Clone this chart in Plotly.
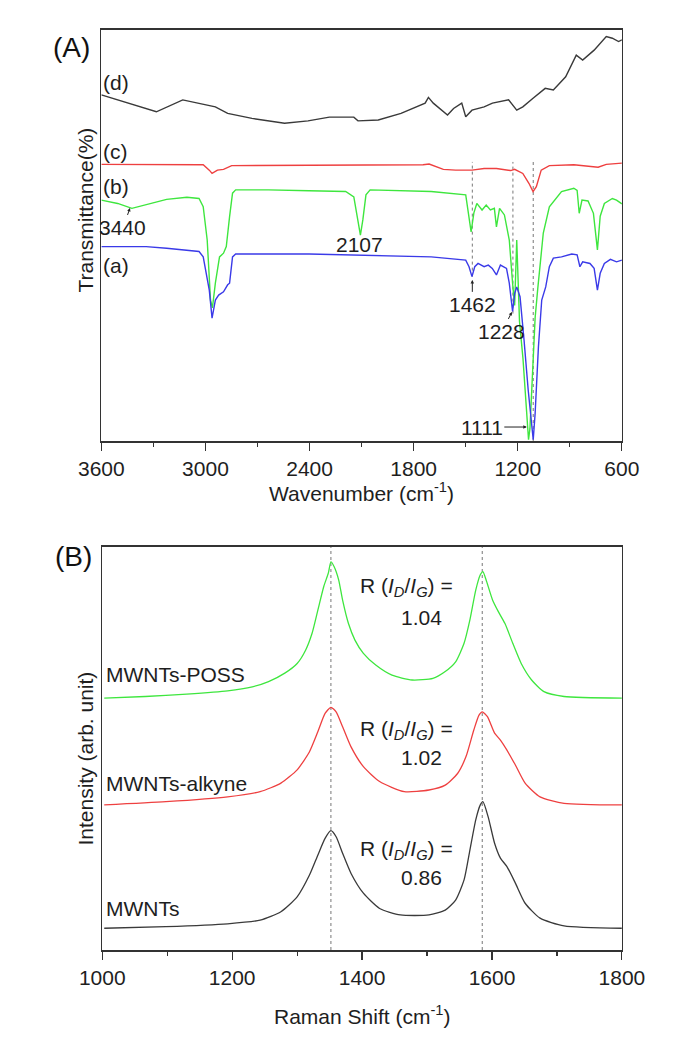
import plotly.graph_objects as go

# ---------------- Panel (A): FTIR spectra ----------------
# (d) black
wn_d = [3600, 3283, 3131, 2943, 2872, 2732, 2544, 2409, 2286, 2145, 2121, 2004, 1873, 1734, 1715,
        1687, 1605, 1570, 1523, 1500, 1464, 1394, 1346, 1253, 1206, 1171, 1112, 1042, 995, 924,
        863, 826, 760, 690, 655, 619, 600]
t_d = [84.2, 80.1, 83.0, 81.3, 79.7, 78.5, 77.3, 77.9, 78.8, 78.8, 77.9, 78.1, 79.7, 82.2, 83.6,
       82.2, 79.3, 80.9, 82.2, 78.9, 80.5, 81.3, 82.2, 83.0, 80.5, 81.3, 83.4, 85.8, 85.4, 88.6,
       93.9, 92.7, 95.1, 98.4, 98.0, 97.2, 97.6]

# (c) red
wn_c = [3600, 3013, 2978, 2962, 2931, 2896, 2849, 1746, 1711, 1629, 1558, 1464, 1394, 1323, 1241,
        1218, 1171, 1136, 1112, 1093, 1065, 1018, 877, 737, 690, 600]
t_c = [67.3, 67.2, 65.9, 65.1, 65.9, 66.1, 67.0, 67.2, 67.4, 66.1, 65.9, 65.9, 66.3, 66.3, 65.8,
       66.1, 65.1, 62.7, 60.7, 61.9, 65.9, 67.0, 67.2, 66.6, 67.3, 67.6]

# (b) green
wn_b = [3600, 3506, 3424, 3342, 3224, 3107, 3037, 3013, 2990, 2971, 2960, 2943, 2919, 2896, 2880,
        2861, 2844, 2826, 2638, 2403, 2192, 2145, 2121, 2107, 2093, 2075, 2051, 1699, 1500, 1483,
        1469, 1453, 1436, 1406, 1382, 1358, 1335, 1323, 1305, 1277, 1249, 1230, 1218, 1206, 1190,
        1170, 1150, 1138, 1130, 1118, 1100, 1085, 1077, 1053, 1018, 948, 877, 858, 846, 830,
        795, 764, 741, 725, 701, 655, 631, 600]
t_b = [58.6, 57.8, 56.6, 57.5, 58.8, 59.3, 59.0, 57.0, 48.9, 34.3, 32.4, 38.4, 44.8, 45.7, 47.3,
       54.6, 60.3, 61.1, 61.1, 60.9, 60.7, 59.4, 53.8, 50.1, 53.8, 59.9, 61.1, 60.7, 59.9, 54.6,
       50.9, 55.5, 57.8, 56.2, 57.4, 56.2, 56.6, 52.1, 56.6, 55.0, 48.9, 38.4, 33.0, 48.9, 29.0,
       20.0, 6.0, 0.3, 3.0, 15.0, 30.0, 37.0, 40.0, 50.6, 57.0, 60.7, 61.5, 61.0, 55.4, 58.6,
       58.4, 55.4, 46.5, 54.7, 57.8, 59.0, 58.6, 57.7]

# (a) blue
wn_a = [3600, 3342, 3224, 3037, 3013, 2990, 2978, 2962, 2943, 2924, 2896, 2872, 2861, 2844, 2826,
        2403, 2168, 1699, 1500, 1481, 1464, 1448, 1429, 1394, 1370, 1347, 1323, 1300, 1265, 1249,
        1230, 1218, 1206, 1187, 1164, 1140, 1111, 1100, 1081, 1062, 1039, 1018, 995, 948, 889,
        858, 842, 826, 784, 760, 741, 725, 701, 666, 631, 600]
t_a = [47.3, 47.3, 46.9, 46.1, 44.8, 40.0, 36.7, 29.9, 34.3, 35.5, 36.3, 38.0, 38.4, 44.8, 45.5,
       45.5, 45.3, 44.8, 44.0, 42.4, 40.0, 42.4, 43.2, 42.4, 42.8, 42.0, 40.4, 42.8, 42.0, 38.4,
       31.5, 35.9, 37.5, 35.1, 24.6, 12.4, 0.3, 6.7, 22.9, 34.3, 37.5, 42.4, 44.5, 44.8, 45.5,
       45.3, 42.4, 43.6, 43.2, 42.0, 36.7, 40.8, 43.2, 44.2, 43.6, 44.0]

ftir_ticks = [3600, 3000, 2400, 1800, 1200, 600]
ftir_minor = [3300, 2700, 2100, 1500, 900]
ftir_marks = [1462, 1228, 1111]
ftir_mark_low = [40.0, 31.0, 0.0]
ftir_labels = ["(d)", "(c)", "(b)", "(a)"]

# ---------------- Panel (B): Raman spectra ----------------
ram_x_poss = [1003, 1066, 1130, 1193, 1231, 1256, 1281, 1300, 1313, 1323, 1332, 1341, 1348, 1352,
              1357, 1364, 1370, 1379, 1389, 1402, 1421, 1446, 1477, 1509, 1528, 1544, 1557, 1566,
              1575, 1582, 1586, 1591, 1601, 1610, 1620, 1632, 1645, 1661, 1680, 1711, 1800]
ram_y_poss = [62.5, 62.9, 63.5, 64.3, 65.3, 66.6, 68.7, 71.1, 74.4, 78.6, 84.4, 90.2, 93.5, 96.3,
              95.1, 91.8, 86.8, 81.0, 76.9, 73.6, 70.7, 68.2, 67.0, 67.4, 69.1, 71.5, 76.1, 81.9,
              89.3, 93.1, 93.9, 91.8, 86.8, 83.9, 81.0, 76.1, 71.1, 67.0, 64.1, 62.9, 62.5]

ram_x_alk = [1003, 1098, 1193, 1243, 1275, 1300, 1319, 1332, 1343, 1352, 1360, 1370, 1383, 1402,
             1427, 1465, 1503, 1528, 1547, 1560, 1572, 1580, 1585, 1593, 1604, 1613, 1623, 1636,
             1651, 1674, 1711, 1800]
ram_y_alk = [36.0, 36.8, 38.0, 39.3, 41.4, 44.7, 49.2, 54.2, 58.7, 60.2, 59.1, 55.4, 50.4, 45.5,
             41.8, 39.3, 39.7, 40.9, 43.8, 48.0, 54.6, 58.3, 59.1, 57.9, 53.8, 52.1, 49.6, 45.9,
             41.4, 38.0, 36.4, 36.0]

ram_x_mw = [1003, 1098, 1193, 1243, 1275, 1300, 1319, 1332, 1343, 1352, 1360, 1370, 1383, 1402,
            1427, 1459, 1503, 1528, 1544, 1557, 1566, 1575, 1582, 1586, 1594, 1604, 1613, 1623,
            1636, 1651, 1674, 1711, 1800]
ram_y_mw = [5.4, 5.8, 6.5, 7.4, 9.5, 13.2, 18.6, 23.6, 27.7, 29.6, 28.1, 24.0, 19.0, 14.1,
            10.3, 8.7, 8.7, 9.9, 12.4, 17.4, 24.8, 32.3, 36.0, 36.8, 33.1, 26.5, 22.8, 20.7,
            16.6, 11.6, 7.9, 6.0, 5.4]

raman_ticks = [1000, 1200, 1400, 1600, 1800]
raman_minor = [1100, 1300, 1500, 1700]
raman_marks = [1352, 1585]
ratios = ["1.04", "1.02", "0.86"]
sample_names = ["MWNTs-POSS", "MWNTs-alkyne", "MWNTs"]

# ---------------- Layout helpers ----------------
W, H = 685, 1055
FONT = "Liberation Sans, Arial, sans-serif"
AX = "#333333"
TXT = "#1e1e1e"


def px(x):
    return x / W


def py(y):
    return 1 - y / H


fig = go.Figure()

ftir_series = [(wn_d, t_d, "#3a3a3a"), (wn_c, t_c, "#ee4040"),
               (wn_b, t_b, "#3ee63e"), (wn_a, t_a, "#3a3ae8")]
for xs, ys, col in ftir_series:
    fig.add_trace(go.Scatter(x=xs, y=ys, mode="lines", line=dict(color=col, width=1.4),
                             xaxis="x", yaxis="y", showlegend=False, hoverinfo="skip"))

raman_series = [(ram_x_poss, ram_y_poss, "#3ee63e"), (ram_x_alk, ram_y_alk, "#ee4040"),
                (ram_x_mw, ram_y_mw, "#3a3a3a")]
for xs, ys, col in raman_series:
    fig.add_trace(go.Scatter(x=xs, y=ys, mode="lines",
                             line=dict(color=col, width=1.3, shape="spline", smoothing=0.6),
                             xaxis="x2", yaxis="y2", showlegend=False, hoverinfo="skip"))

shapes = []
for m, low in zip(ftir_marks, ftir_mark_low):
    shapes.append(dict(type="line", xref="x", yref="y", x0=m, x1=m, y0=low, y1=67.9,
                       line=dict(color="#777777", width=1, dash="3px,3px"), layer="below"))
for m in raman_marks:
    shapes.append(dict(type="line", xref="x2", yref="y2", x0=m, x1=m, y0=0, y1=100,
                       line=dict(color="#777777", width=1, dash="3px,3px"), layer="below"))

TF = dict(family=FONT, size=21, color=TXT)
ARR = dict(showarrow=True, arrowhead=2, arrowsize=0.7, arrowwidth=1, arrowcolor="#222")


def note(text, x, y, xanchor="center", **kw):
    d = dict(text=text, x=px(x), y=py(y), xref="paper", yref="paper", xanchor=xanchor,
             yanchor="middle", showarrow=False, font=TF)
    d.update(kw)
    return d


ann = []
ann.append(note("(A)", 52, 47, font=dict(family=FONT, size=28, color="#111")))
ann.append(note("(B)", 54, 556, font=dict(family=FONT, size=28, color="#111")))
for lab, yy in zip(ftir_labels, [82, 152, 187, 265]):
    ann.append(note(lab, 84, yy, xanchor="left"))

# peak annotations (data coordinates)
ann.append(dict(text="2107", x=2111, y=(441 - 245) / 4.11, xref="x", yref="y",
                yanchor="middle", showarrow=False, font=TF))
ann.append(dict(text="3440", x=3435, y=56.7, xref="x", yref="y", ax=-7, ay=20, font=TF, **ARR))
ann.append(dict(text="1462", x=1462, y=39.2, xref="x", yref="y", ax=0, ay=25, font=TF, **ARR))
ann.append(dict(text="1228", x=1234, y=31.4, xref="x", yref="y", ax=-10, ay=20, font=TF, **ARR))
ann.append(dict(text="1111", x=1148, y=3.4, xref="x", yref="y", ax=-45, ay=0, font=TF, **ARR))

# axis titles
ann.append(note("Wavenumber (cm<sup>-1</sup>)", 363, 492))
ann.append(note("Transmittance(%)", 66, 210, textangle=-90))
ann.append(note("Raman Shift (cm<sup>-1</sup>)", 363, 1015))
ann.append(note("Intensity (arb. unit)", 66, 759, textangle=-90))

# Raman labels
for name, yy in zip(sample_names, [675, 783, 908]):
    ann.append(note(name, 87, yy, xanchor="left"))
for r, (y1, y2) in zip(ratios, [(587, 617), (730, 757), (850, 877)]):
    ann.append(note("R (<i>I</i><sub><i>D</i></sub>/<i>I</i><sub><i>G</i></sub>) =", 411, y1))
    ann.append(note(r, 451, y2, xanchor="right"))

common_x = dict(ticks="outside", ticklen=8, tickwidth=1.2, tickcolor=AX, showline=True,
                linecolor=AX, linewidth=1.6, mirror=True, showgrid=False, zeroline=False,
                tickfont=TF)
common_y = dict(showticklabels=False, ticks="", showline=True, linecolor=AX, linewidth=1.6,
                mirror=True, showgrid=False, zeroline=False, range=[0, 100])

fig.update_layout(
    width=W, height=H, autosize=False,
    margin=dict(l=0, r=0, t=0, b=0),
    paper_bgcolor="white", plot_bgcolor="white",
    font=dict(family=FONT),
    xaxis=dict(domain=[px(84), px(642)], range=[3600, 600], anchor="y",
               tickmode="array", tickvals=ftir_ticks,
               minor=dict(tickmode="array", tickvals=ftir_minor, ticks="outside", ticklen=4,
                          tickcolor=AX, tickwidth=1.2),
               **common_x),
    yaxis=dict(domain=[py(441), py(30)], anchor="x", **common_y),
    xaxis2=dict(domain=[px(85), px(642)], range=[1000, 1800], anchor="y2",
                tickmode="array", tickvals=raman_ticks,
                minor=dict(tickmode="array", tickvals=raman_minor, ticks="outside", ticklen=4,
                           tickcolor=AX, tickwidth=1.2),
                **common_x),
    yaxis2=dict(domain=[py(950), py(547)], anchor="x2", **common_y),
    shapes=shapes,
    annotations=ann,
)

fig.write_html("out.html", config={"displayModeBar": False, "staticPlot": True},
               post_script="document.body.style.margin='0px';")
